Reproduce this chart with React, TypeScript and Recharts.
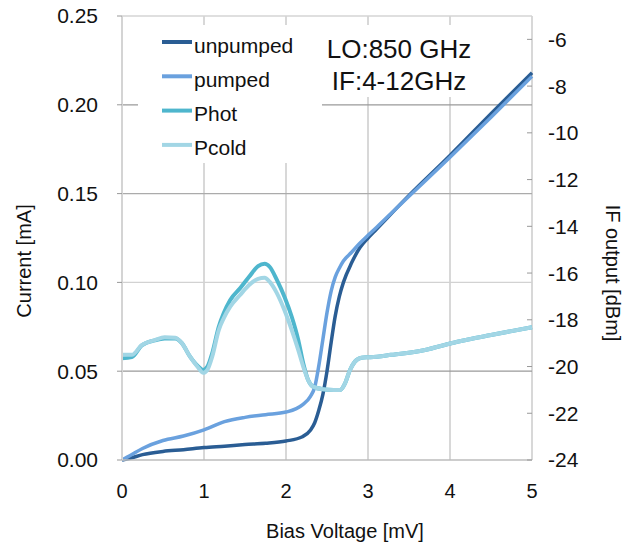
import React from "react";
import { LineChart, Line, XAxis, YAxis, ReferenceLine, Label } from "recharts";

// ---- data ----
const ivVoltage = [0, 0.1, 0.25, 0.5, 0.75, 1.0, 1.25, 1.5, 1.75, 2.0, 2.2, 2.3, 2.35, 2.4, 2.45, 2.5, 2.55, 2.6, 2.65, 2.7, 2.8, 2.9, 3.0, 3.1, 3.5, 4.0, 4.5, 5.0];
const unpumpedCurrent = [0, 0.001, 0.003, 0.0048, 0.0058, 0.007, 0.0078, 0.0087, 0.0094, 0.0107, 0.0131, 0.0169, 0.021, 0.028, 0.037, 0.05, 0.066, 0.081, 0.092, 0.1, 0.111, 0.1195, 0.125, 0.1298, 0.149, 0.1715, 0.195, 0.218];
const pumpedCurrent = [0, 0.0025, 0.0065, 0.011, 0.0135, 0.017, 0.0216, 0.024, 0.0255, 0.027, 0.031, 0.036, 0.041, 0.053, 0.068, 0.083, 0.095, 0.103, 0.108, 0.112, 0.117, 0.122, 0.1265, 0.1308, 0.1485, 0.1705, 0.193, 0.216];

const ifVoltage = [0, 0.12, 0.24, 0.4, 0.52, 0.65, 0.73, 0.83, 0.93, 0.99, 1.04, 1.1, 1.18, 1.24, 1.32, 1.44, 1.55, 1.66, 1.74, 1.8, 1.89, 1.98, 2.07, 2.15, 2.21, 2.27, 2.33, 2.45, 2.58, 2.66, 2.72, 2.78, 2.84, 2.92, 3.03, 3.28, 3.68, 4.09, 4.5, 5.0];
const photDbm = [-19.65, -19.6, -19.1, -18.88, -18.8, -18.8, -19.0, -19.58, -20.0, -20.15, -20.02, -19.43, -18.3, -17.72, -17.15, -16.65, -16.16, -15.7, -15.6, -15.73, -16.3, -17.0, -17.87, -18.87, -19.86, -20.58, -20.86, -20.97, -21.0, -21.0, -20.72, -20.15, -19.79, -19.62, -19.6, -19.5, -19.3, -18.94, -18.65, -18.32];
const pcoldDbm = [-19.5, -19.5, -19.08, -18.87, -18.75, -18.77, -19.0, -19.58, -20.05, -20.27, -20.15, -19.58, -18.44, -17.94, -17.44, -16.94, -16.51, -16.25, -16.2, -16.37, -16.87, -17.58, -18.44, -19.3, -20.0, -20.58, -20.86, -20.97, -21.0, -21.0, -20.72, -20.15, -19.79, -19.62, -19.6, -19.5, -19.3, -18.94, -18.65, -18.32];

const xTicks = [0, 1, 2, 3, 4, 5];
const leftTicks = [0, 0.05, 0.1, 0.15, 0.2, 0.25];
const rightTicks = [-24, -22, -20, -18, -16, -14, -12, -10, -8, -6];

const seriesNames = ["unpumped", "pumped", "Phot", "Pcold"];
const seriesColors = ["#2a5d94", "#6aa1de", "#4eb6cd", "#a2d6e5"];
const annotation = ["LO:850 GHz", "IF:4-12GHz"];

const ivData = (vals: number[]) => ivVoltage.map((v, i) => ({ v, y: vals[i] }));
const ifData = (vals: number[]) => ifVoltage.map((v, i) => ({ v, y: vals[i] }));

const FONT = "'Liberation Sans', Arial, Helvetica, sans-serif";

const RightTick = (props: any) => {
  const { x, y, payload } = props;
  return (
    <g>
      <line x1={x - 21} y1={y} x2={x - 16} y2={y} stroke="#999" strokeWidth={1} />
      <text x={x} y={y} dy="0.355em" textAnchor="start" fontSize={21} fontFamily={FONT} fill="#111">
        {payload.value}
      </text>
    </g>
  );
};

const TitleText = ({ x, y, angle, text }: any) => (
  <text
    x={x}
    y={y}
    textAnchor="middle"
    dominantBaseline="central"
    transform={`rotate(${angle} ${x} ${y})`}
    fontSize={20}
    fontFamily={FONT}
    fill="#111"
  >
    {text}
  </text>
);

export default function App() {
  return (
    <div style={{ position: "absolute", left: 0, top: 0, width: 628, height: 545, background: "#fff" }}>
      <LineChart width={628} height={545} margin={{ top: 16, right: 0, bottom: 0, left: 0 }}>
        <XAxis
          dataKey="v"
          type="number"
          domain={[0, 5]}
          ticks={xTicks}
          allowDuplicatedCategory={false}
          height={85}
          tickSize={0}
          tickMargin={24}
          tickLine={false}
          axisLine={{ stroke: "#bdbdbd", strokeWidth: 1.5 }}
          tick={{ fontSize: 20, fontFamily: FONT, fill: "#111" }}
          label={<Label content={() => <TitleText x={345} y={531} angle={0} text="Bias Voltage [mV]" />} />}
        />
        <YAxis
          yAxisId="left"
          orientation="left"
          type="number"
          domain={[0, 0.25]}
          ticks={leftTicks}
          width={122}
          tickSize={5}
          tickMargin={19}
          tickLine={{ stroke: "#999" }}
          axisLine={{ stroke: "#d4d4d4", strokeWidth: 2 }}
          tickFormatter={(t: number) => t.toFixed(2)}
          tick={{ fontSize: 21, fontFamily: FONT, fill: "#111" }}
          label={<Label content={() => <TitleText x={24} y={261} angle={-90} text="Current [mA]" />} />}
        />
        <YAxis
          yAxisId="right"
          orientation="right"
          type="number"
          domain={[-24, -5]}
          ticks={rightTicks}
          width={96}
          tickSize={0}
          tickMargin={16}
          tickLine={false}
          axisLine={false}
          tick={<RightTick />}
          label={<Label content={() => <TitleText x={613} y={273} angle={90} text="IF output [dBm]" />} />}
        />

        {xTicks.slice(1).map((t) => (
          <ReferenceLine key={"vx" + t} yAxisId="left" x={t} stroke="#d8d8d8" strokeWidth={2} />
        ))}
        <ReferenceLine yAxisId="left" y={0.25} stroke="#d4d4d4" strokeWidth={1.5} />
        <ReferenceLine yAxisId="left" y={0.2} stroke="#9a9a9a" strokeWidth={1.2} />
        <ReferenceLine yAxisId="left" y={0.15} stroke="#ababab" strokeWidth={1.2} />
        <ReferenceLine yAxisId="left" y={0.1} stroke="#d2d2d2" strokeWidth={1.2} />
        <ReferenceLine yAxisId="left" y={0.05} stroke="#9a9a9a" strokeWidth={1.2} />

        <Line yAxisId="left" data={ivData(unpumpedCurrent)} dataKey="y" name={seriesNames[0]} stroke={seriesColors[0]} strokeWidth={3.5} dot={false} type="monotone" isAnimationActive={false} />
        <Line yAxisId="left" data={ivData(pumpedCurrent)} dataKey="y" name={seriesNames[1]} stroke={seriesColors[1]} strokeWidth={3.5} dot={false} type="monotone" isAnimationActive={false} />
        <Line yAxisId="right" data={ifData(photDbm)} dataKey="y" name={seriesNames[2]} stroke={seriesColors[2]} strokeWidth={4} dot={false} type="monotone" isAnimationActive={false} />
        <Line yAxisId="right" data={ifData(pcoldDbm)} dataKey="y" name={seriesNames[3]} stroke={seriesColors[3]} strokeWidth={4} dot={false} type="monotone" isAnimationActive={false} />
      </LineChart>

      <svg width={628} height={545} style={{ position: "absolute", left: 0, top: 0, pointerEvents: "none" }}>
        <rect x={138} y={25} width={184} height={138} fill="#fff" />
        <rect x={322} y={25} width={160} height={72} fill="#fff" />
        {seriesNames.map((n, i) => (
          <g key={n}>
            <line x1={162} x2={192} y1={42 + i * 34.3} y2={42 + i * 34.3} stroke={seriesColors[i]} strokeWidth={4} />
            <text x={194} y={53 + i * 34} fontSize={21} fontFamily={FONT} fill="#111">
              {n}
            </text>
          </g>
        ))}
        {annotation.map((t, i) => (
          <text key={t} x={399} y={58 + i * 32} textAnchor="middle" fontSize={26} fontFamily={FONT} fill="#111">
            {t}
          </text>
        ))}
      </svg>
    </div>
  );
}
